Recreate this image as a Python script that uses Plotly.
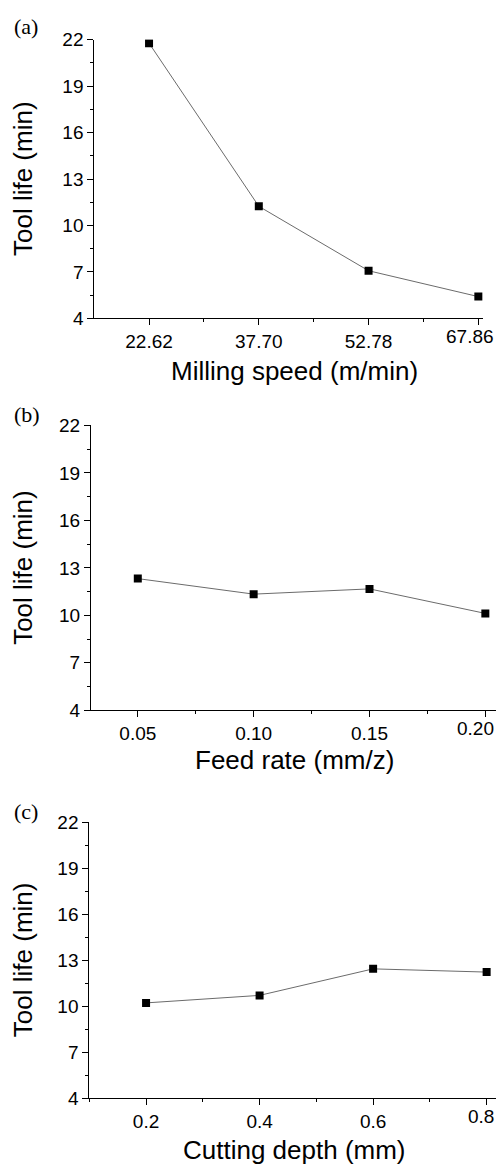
import plotly.graph_objects as go

# Data
speed = [22.62, 37.70, 52.78, 67.86]
life_speed = [21.77, 11.24, 7.08, 5.41]
feed = [0.05, 0.10, 0.15, 0.20]
life_feed = [12.32, 11.34, 11.67, 10.12]
depth = [0.2, 0.4, 0.6, 0.8]
life_depth = [10.21, 10.70, 12.43, 12.22]

speed_labels = ["22.62", "37.70", "52.78", "67.86"]
feed_labels = ["0.05", "0.10", "0.15", "0.20"]
depth_labels = ["0.2", "0.4", "0.6", "0.8"]

panel_labels = ["(a)", "(b)", "(c)"]
x_titles = ["Milling speed (m/min)", "Feed rate (mm/z)", "Cutting depth (mm)"]
y_title = "Tool life (min)"

OFF = 8  # page body margin
W, H = 504 - 2 * OFF, 1176 - 2 * OFF  # figure fits the window exactly
fig = go.Figure()

line_style = dict(color="#6b6b6b", width=1)
marker_style = dict(symbol="square", size=8, color="black")

series = [(speed, life_speed, speed_labels),
          (feed, life_feed, feed_labels),
          (depth, life_depth, depth_labels)]
for i, (xs, ys, _) in enumerate(series):
    sfx = "" if i == 0 else str(i + 1)
    fig.add_trace(go.Scatter(x=xs, y=ys, mode="lines+markers",
                             line=line_style, marker=marker_style,
                             xaxis="x" + sfx, yaxis="y" + sfx,
                             showlegend=False))

# target screen pixel boxes (left, right, top, bottom)
boxes = [(94.3, 483, 30, 314), (91, 496, 423, 713), (89.3, 496, 827, 1108)]
xranges = [[15.1, 68.5], [0.0298, 0.2046], [0.1, 0.8165]]
minor_dt = [7.54, 0.025, 0.1]
label_y = [17, 412, 816]
xtitle_dy = [54, 51, 53]

font_tick = dict(family="Liberation Sans, Arial", size=19, color="black")
font_title = dict(family="Liberation Sans, Arial", size=26, color="black")


def px(v):
    return (v - OFF) / W


def py(v):
    return 1 - (v - OFF) / H


layout = dict(width=W, height=H, margin=dict(l=0, r=0, t=0, b=0),
              paper_bgcolor="white", plot_bgcolor="white", annotations=[])

for i, (l, r, t, b) in enumerate(boxes):
    sfx = "" if i == 0 else str(i + 1)
    xs, _, labels = series[i]
    ticktext = list(labels[:-1]) + [""]
    layout["xaxis" + sfx] = dict(
        domain=[px(l), min(px(r), 1)], range=xranges[i], anchor="y" + sfx,
        tickmode="array", tickvals=xs, ticktext=ticktext,
        showline=True, linecolor="black", linewidth=1, mirror=False,
        ticks="outside", ticklen=6, tickwidth=1, tickcolor="black",
        minor=dict(ticks="outside", ticklen=3, tickcolor="black",
                   tickmode="linear", tick0=xs[0], dtick=minor_dt[i]),
        showgrid=False, zeroline=False, tickfont=font_tick)
    layout["yaxis" + sfx] = dict(
        domain=[py(b), py(t)], range=[4, 22], anchor="x" + sfx,
        tickmode="linear", tick0=4, dtick=3,
        showline=True, linecolor="black", linewidth=1, mirror=False,
        ticks="outside", ticklen=6, tickwidth=1, tickcolor="black",
        minor=dict(ticks="outside", ticklen=3, tickcolor="black",
                   tickmode="linear", tick0=4, dtick=1.5),
        showgrid=False, zeroline=False, tickfont=font_tick)
    # last tick label, kept inside the figure edge
    layout["annotations"].append(dict(
        text=labels[-1], xref="paper", yref="paper",
        x=1, y=py(b), xanchor="right", yanchor="top", yshift=-6,
        showarrow=False, font=font_tick))
    # x title
    layout["annotations"].append(dict(
        text=x_titles[i], xref="paper", yref="paper",
        x=px(294), y=py(b + xtitle_dy[i]), xanchor="center", yanchor="middle",
        showarrow=False, font=font_title))
    # y title
    layout["annotations"].append(dict(
        text=y_title, xref="paper", yref="paper", textangle=-90,
        x=px(23), y=py((t + b) / 2), xanchor="center", yanchor="middle",
        showarrow=False, font=font_title))
    # panel label
    layout["annotations"].append(dict(
        text=panel_labels[i], xref="paper", yref="paper",
        x=px(12), y=py(label_y[i]), xanchor="left", yanchor="middle",
        showarrow=False,
        font=dict(family="Liberation Serif, Times New Roman", size=22, color="black")))

fig.update_layout(**layout)
fig.write_html("out.html", config={"displayModeBar": False})
